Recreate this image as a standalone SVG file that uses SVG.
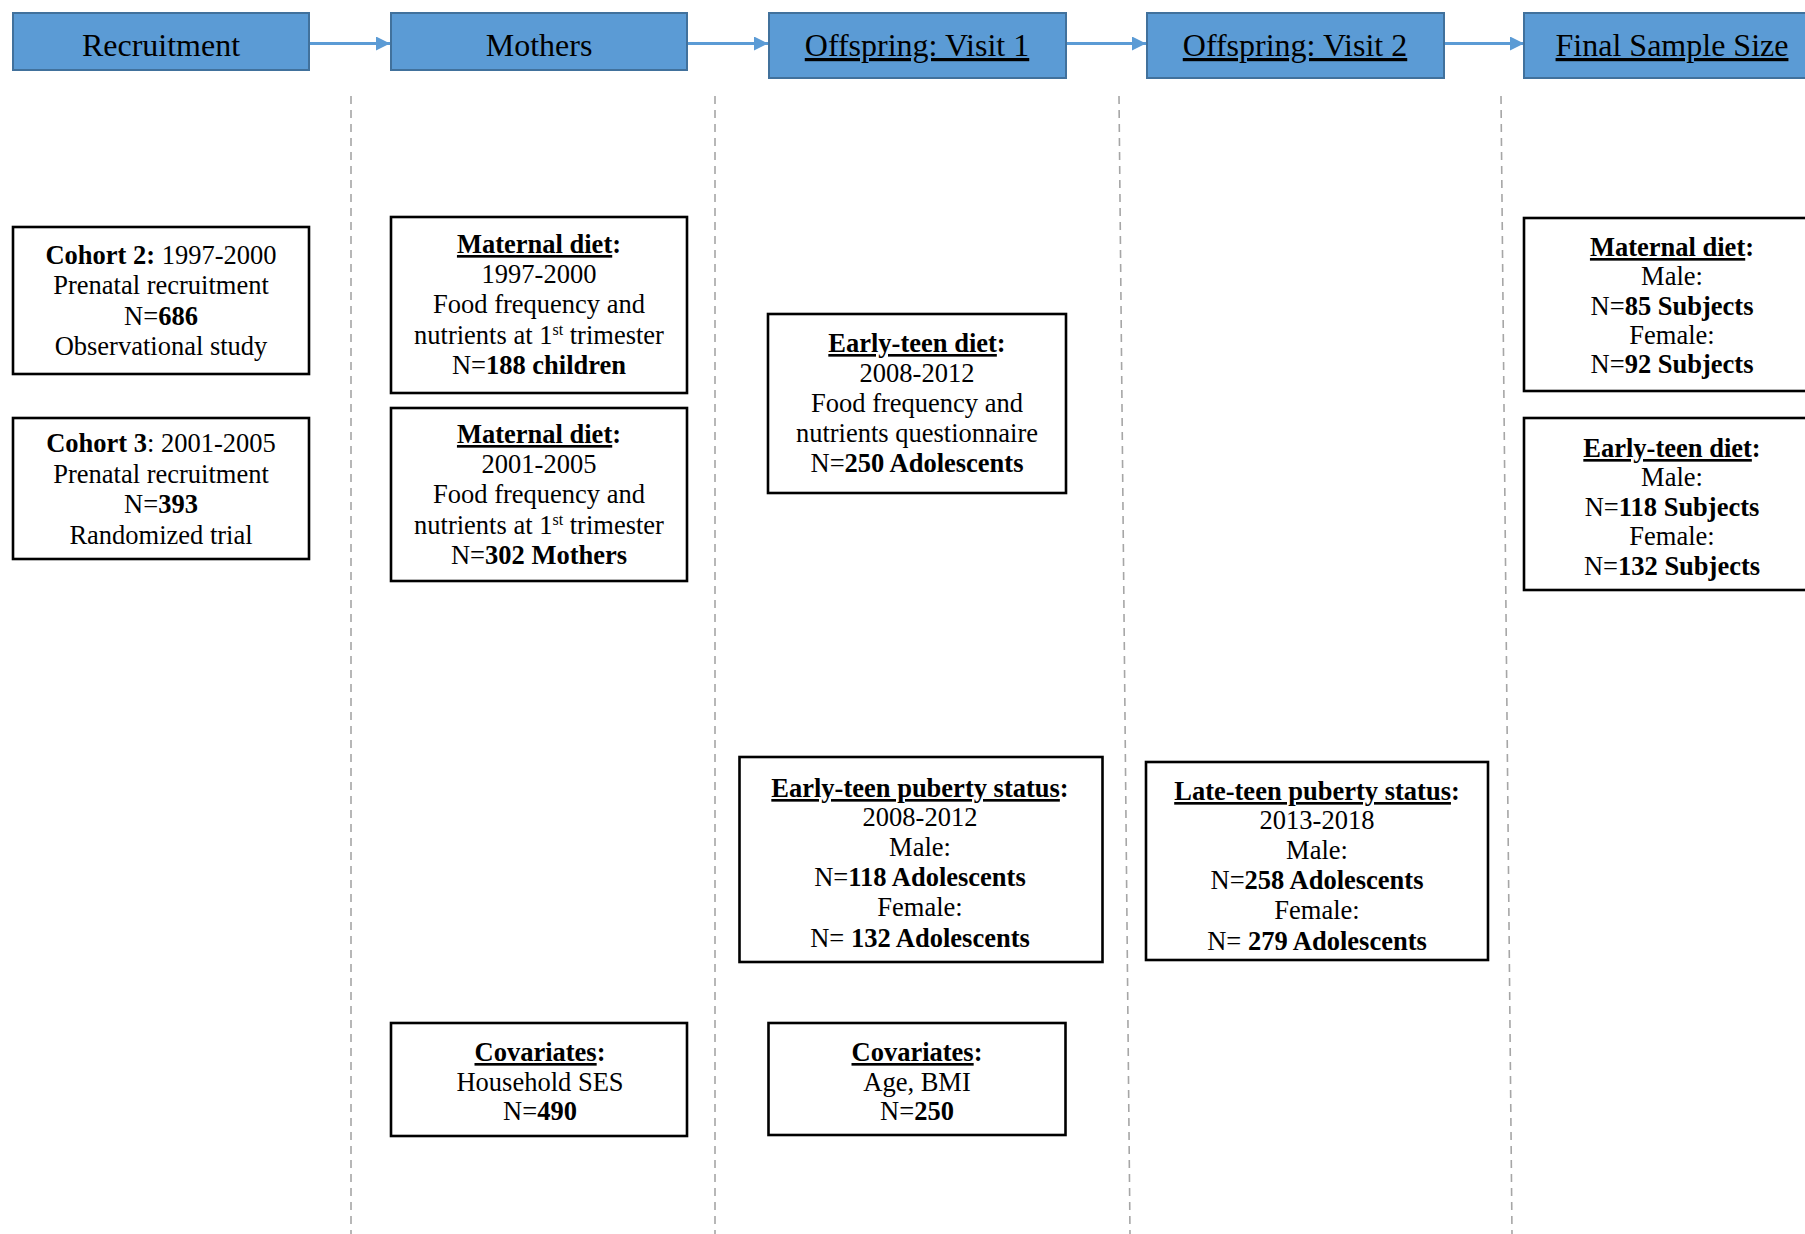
<svg xmlns="http://www.w3.org/2000/svg" width="1805" height="1234" viewBox="0 0 1805 1234">
<style>
text{font-family:"Liberation Serif","Times New Roman",serif;fill:#000;text-anchor:middle}
.h{font-size:32px}
.t{font-size:26.5px}
.b{font-weight:bold}
.u{text-decoration:underline}
.hbox{fill:#5b9bd5;stroke:#41719c;stroke-width:2}
.box{fill:#fff;stroke:#000;stroke-width:2.6}
.dash{stroke:#a6a6a6;stroke-width:1.6;stroke-dasharray:8 6;fill:none}
.arr{stroke:#5b9bd5;stroke-width:3;fill:none}
</style>
<defs>
<marker id="ah" markerWidth="14" markerHeight="14" refX="14" refY="7" orient="auto" markerUnits="userSpaceOnUse">
<path d="M0,0 L14,7 L0,14 Z" fill="#5b9bd5"/>
</marker>
</defs>
<rect width="1805" height="1234" fill="#fff"/>
<g id="dividers">
<line class="dash" x1="351" y1="96" x2="351" y2="1234"/>
<line class="dash" x1="715" y1="96" x2="715" y2="1234"/>
<line class="dash" x1="1119" y1="96" x2="1130" y2="1234"/>
<line class="dash" x1="1501" y1="96" x2="1512" y2="1234"/>
</g>
<g id="connectors">
<line class="arr" x1="310" y1="43.5" x2="390" y2="43.5" marker-end="url(#ah)"/>
<line class="arr" x1="688" y1="43.5" x2="768" y2="43.5" marker-end="url(#ah)"/>
<line class="arr" x1="1066" y1="43.5" x2="1146" y2="43.5" marker-end="url(#ah)"/>
<line class="arr" x1="1444" y1="43.5" x2="1524" y2="43.5" marker-end="url(#ah)"/>
</g>
<g id="h-recruitment"><rect class="hbox" x="13" y="13" width="296" height="57"/><text class="h" x="161" y="56">Recruitment</text></g>
<g id="h-mothers"><rect class="hbox" x="391" y="13" width="296" height="57"/><text class="h" x="539" y="56">Mothers</text></g>
<g id="h-visit1"><rect class="hbox" x="769" y="13" width="297" height="65"/><text class="h u" x="917" y="56">Offspring: Visit 1</text></g>
<g id="h-visit2"><rect class="hbox" x="1147" y="13" width="297" height="65"/><text class="h u" x="1295" y="56">Offspring: Visit 2</text></g>
<g id="h-final"><rect class="hbox" x="1524" y="13" width="297" height="65"/><text class="h u" x="1672" y="56">Final Sample Size</text></g>

<g id="cohort2"><rect class="box" x="13" y="227" width="296" height="147"/>
<text class="t" x="161" y="264"><tspan class="b">Cohort 2:</tspan> 1997-2000</text>
<text class="t" x="161" y="294">Prenatal recruitment</text>
<text class="t" x="161" y="325">N=<tspan class="b">686</tspan></text>
<text class="t" x="161" y="355">Observational study</text></g>

<g id="cohort3"><rect class="box" x="13" y="418" width="296" height="141"/>
<text class="t" x="161" y="452"><tspan class="b">Cohort 3</tspan>: 2001-2005</text>
<text class="t" x="161" y="483">Prenatal recruitment</text>
<text class="t" x="161" y="513">N=<tspan class="b">393</tspan></text>
<text class="t" x="161" y="544">Randomized trial</text></g>

<g id="maternal1"><rect class="box" x="391" y="217" width="296" height="176"/>
<text class="t b" x="539" y="253"><tspan class="u">Maternal diet</tspan>:</text>
<text class="t" x="539" y="283">1997-2000</text>
<text class="t" x="539" y="313">Food frequency and</text>
<text class="t" x="539" y="344">nutrients at 1<tspan dy="-9" font-size="16">st</tspan><tspan dy="9"> trimester</tspan></text>
<text class="t" x="539" y="374">N=<tspan class="b">188 children</tspan></text></g>

<g id="maternal2"><rect class="box" x="391" y="408" width="296" height="173"/>
<text class="t b" x="539" y="443"><tspan class="u">Maternal diet</tspan>:</text>
<text class="t" x="539" y="473">2001-2005</text>
<text class="t" x="539" y="503">Food frequency and</text>
<text class="t" x="539" y="534">nutrients at 1<tspan dy="-9" font-size="16">st</tspan><tspan dy="9"> trimester</tspan></text>
<text class="t" x="539" y="564">N=<tspan class="b">302 Mothers</tspan></text></g>

<g id="earlyteen-diet"><rect class="box" x="768" y="314" width="298" height="179"/>
<text class="t b" x="917" y="352"><tspan class="u">Early-teen diet</tspan>:</text>
<text class="t" x="917" y="382">2008-2012</text>
<text class="t" x="917" y="412">Food frequency and</text>
<text class="t" x="917" y="442">nutrients questionnaire</text>
<text class="t" x="917" y="472">N=<tspan class="b">250 Adolescents</tspan></text></g>

<g id="earlyteen-puberty"><rect class="box" x="739.5" y="757" width="363" height="205"/>
<text class="t b" x="920" y="797"><tspan class="u">Early-teen puberty status</tspan>:</text>
<text class="t" x="920" y="826">2008-2012</text>
<text class="t" x="920" y="856">Male:</text>
<text class="t" x="920" y="886">N=<tspan class="b">118 Adolescents</tspan></text>
<text class="t" x="920" y="916">Female:</text>
<text class="t" x="920" y="947">N= <tspan class="b">132 Adolescents</tspan></text></g>

<g id="lateteen-puberty"><rect class="box" x="1146" y="762" width="342" height="198"/>
<text class="t b" x="1317" y="800"><tspan class="u">Late-teen puberty status</tspan>:</text>
<text class="t" x="1317" y="829">2013-2018</text>
<text class="t" x="1317" y="859">Male:</text>
<text class="t" x="1317" y="889">N=<tspan class="b">258 Adolescents</tspan></text>
<text class="t" x="1317" y="919">Female:</text>
<text class="t" x="1317" y="950">N= <tspan class="b">279 Adolescents</tspan></text></g>

<g id="final-maternal"><rect class="box" x="1524" y="218" width="297" height="173"/>
<text class="t b" x="1672" y="256"><tspan class="u">Maternal diet</tspan>:</text>
<text class="t" x="1672" y="285">Male:</text>
<text class="t" x="1672" y="315">N=<tspan class="b">85 Subjects</tspan></text>
<text class="t" x="1672" y="344">Female:</text>
<text class="t" x="1672" y="373">N=<tspan class="b">92 Subjects</tspan></text></g>

<g id="final-earlyteen"><rect class="box" x="1524" y="418" width="297" height="172"/>
<text class="t b" x="1672" y="457"><tspan class="u">Early-teen diet</tspan>:</text>
<text class="t" x="1672" y="486">Male:</text>
<text class="t" x="1672" y="516">N=<tspan class="b">118 Subjects</tspan></text>
<text class="t" x="1672" y="545">Female:</text>
<text class="t" x="1672" y="575">N=<tspan class="b">132 Subjects</tspan></text></g>

<g id="covariates1"><rect class="box" x="391" y="1023" width="296" height="113"/>
<text class="t b" x="540" y="1061"><tspan class="u">Covariates</tspan>:</text>
<text class="t" x="540" y="1091">Household SES</text>
<text class="t" x="540" y="1120">N=<tspan class="b">490</tspan></text></g>

<g id="covariates2"><rect class="box" x="768.5" y="1023" width="297" height="112"/>
<text class="t b" x="917" y="1061"><tspan class="u">Covariates</tspan>:</text>
<text class="t" x="917" y="1091">Age, BMI</text>
<text class="t" x="917" y="1120">N=<tspan class="b">250</tspan></text></g>
</svg>
